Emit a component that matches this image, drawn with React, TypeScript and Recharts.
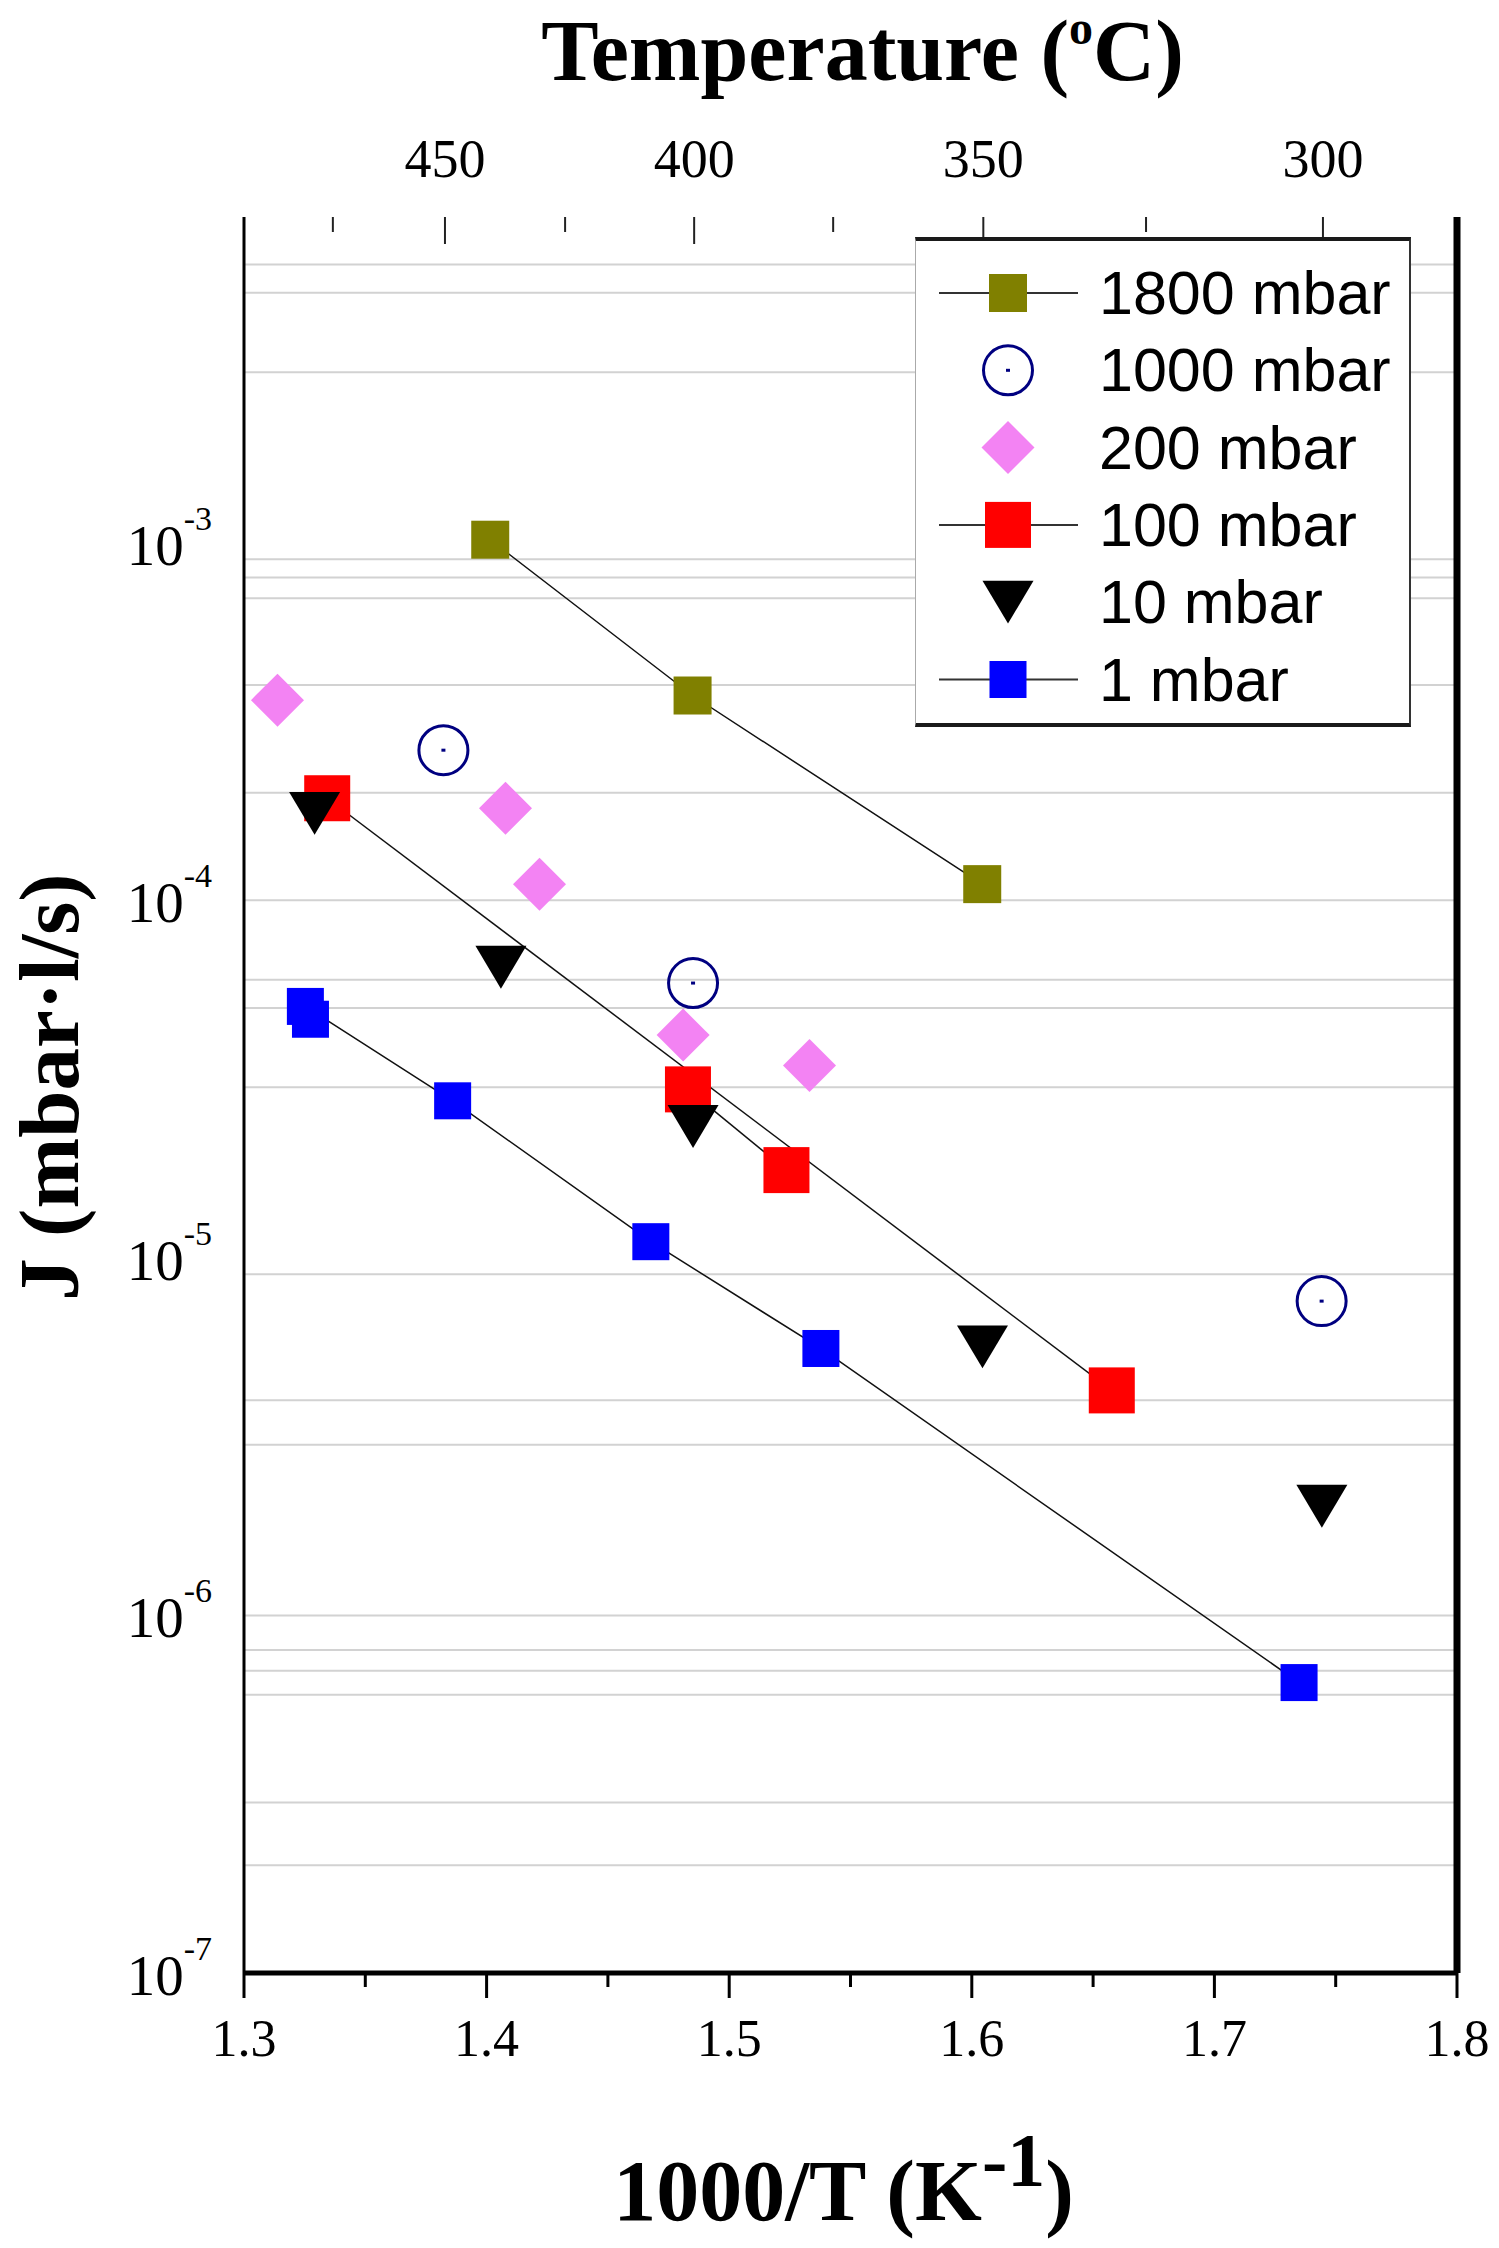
import React from "react";
import { ScatterChart, Scatter, XAxis, YAxis, ReferenceLine } from "recharts";

const SERIF = "'Liberation Serif', 'Times New Roman', serif";
const SANS = "'Liberation Sans', Arial, sans-serif";

// 1000/T (K^-1) against flux J (mbar·l/s)
const x1800 = [1.4015, 1.4849, 1.6043];
const j1800 = [1.02e-3, 3.74e-4, 1.11e-4];

const x1000 = [1.3822, 1.4851, 1.7442];
const j1000 = [2.63e-4, 5.87e-5, 7.57e-6];

const x200 = [1.3138, 1.4078, 1.4218, 1.481, 1.5331];
const j200 = [3.63e-4, 1.81e-4, 1.11e-4, 4.2e-5, 3.45e-5];

// 100 mbar: two runs, each joined on its own
const x100 = [1.3343, 1.6577];
const j100 = [1.93e-4, 4.26e-6];
const x100b = [1.483, 1.5236];
const j100b = [2.96e-5, 1.76e-5];

const x10 = [1.3291, 1.4059, 1.4851, 1.6044, 1.7443];
const j10 = [1.75e-4, 6.5e-5, 2.33e-5, 5.64e-6, 2.02e-6];

const x1 = [1.3274, 1.3253, 1.386, 1.4677, 1.5378, 1.7349];
const j1 = [4.65e-5, 5.05e-5, 2.75e-5, 1.11e-5, 5.58e-6, 6.49e-7];

const xTicks = [1.3, 1.35, 1.4, 1.45, 1.5, 1.55, 1.6, 1.65, 1.7, 1.75, 1.8];
const tempTicks = [475, 450, 425, 400, 375, 350, 325, 300]; // deg C
const yTicks = [1e-7, 1e-6, 1e-5, 1e-4, 1e-3];
const gridJ = [
  6e-3, 5e-3, 3e-3, 9e-4, 8e-4, 7e-4, 4e-4, 2e-4, 1e-4, 6e-5, 5e-5, 3e-5,
  9e-6, 4e-6, 3e-6, 1e-6, 8e-7, 7e-7, 6e-7, 3e-7, 2e-7,
];

const toPoints = (xs: number[], js: number[]) => xs.map((x, i) => ({ x, j: js[i] }));
const tempToX = (t: number) => 1000 / (t + 273.15);

type Kind = "square" | "circle" | "diamond" | "triangle";

function Marker({ kind, cx, cy, color, size }: { kind: Kind; cx: number; cy: number; color: string; size: number }) {
  if (cx == null || cy == null) return null;
  if (kind === "square") {
    return <rect x={cx - size / 2} y={cy - size / 2} width={size} height={size} fill={color} />;
  }
  if (kind === "circle") {
    return (
      <g>
        <circle cx={cx} cy={cy} r={size / 2} fill="none" stroke={color} strokeWidth={3} />
        <rect x={cx - 2} y={cy - 1.5} width={4} height={3} fill={color} />
      </g>
    );
  }
  if (kind === "diamond") {
    const h = size / 2;
    return <polygon points={`${cx},${cy - h} ${cx + h},${cy} ${cx},${cy + h} ${cx - h},${cy}`} fill={color} />;
  }
  const w = size / 2;
  const h = size * 0.42;
  return <polygon points={`${cx - w},${cy - h} ${cx + w},${cy - h} ${cx},${cy + h}`} fill={color} />;
}

// the 1000 mbar runs sit on the temperature axis (450, 400, 300 C); both x axes share one scale
const series = [
  { key: "s1800", name: "1800 mbar", data: toPoints(x1800, j1800), kind: "square" as Kind, color: "#808000", size: 38, line: true, legend: true, xAxis: 0 as any },
  { key: "s1000", name: "1000 mbar", data: toPoints(x1000, j1000), kind: "circle" as Kind, color: "#000080", size: 49, line: false, legend: true, xAxis: "top" as any },
  { key: "s200", name: "200 mbar", data: toPoints(x200, j200), kind: "diamond" as Kind, color: "#f383f3", size: 53, line: false, legend: true, xAxis: 0 as any },
  { key: "s100", name: "100 mbar", data: toPoints(x100, j100), kind: "square" as Kind, color: "#ff0000", size: 46, line: true, legend: true, xAxis: 0 as any },
  { key: "s100b", name: "100 mbar", data: toPoints(x100b, j100b), kind: "square" as Kind, color: "#ff0000", size: 46, line: true, legend: false, xAxis: 0 as any },
  { key: "s10", name: "10 mbar", data: toPoints(x10, j10), kind: "triangle" as Kind, color: "#000000", size: 51, line: false, legend: true, xAxis: 0 as any },
  { key: "s1", name: "1 mbar", data: toPoints(x1, j1), kind: "square" as Kind, color: "#0000ff", size: 37, line: true, legend: true, xAxis: 0 as any },
];

function BottomTick({ x, y, payload }: any) {
  const v = payload.value as number;
  const major = Math.round(v * 100) % 10 === 0;
  return (
    <g>
      <line x1={x} x2={x} y1={y} y2={y + (major ? 25 : 14)} stroke="#000" strokeWidth={3} />
      {major && (
        <text x={x} y={y + 83} textAnchor="middle" fontFamily={SERIF} fontSize={52} fill="#000">
          {v.toFixed(1)}
        </text>
      )}
    </g>
  );
}

function TopTick({ x, y, payload }: any) {
  const t = Math.round(1000 / payload.value - 273.15);
  const major = t % 50 === 0;
  return (
    <g>
      <line x1={x} x2={x} y1={y} y2={y + (major ? 27 : 15)} stroke="#222" strokeWidth={2} />
      {major && (
        <text x={x} y={y - 40} textAnchor="middle" fontFamily={SERIF} fontSize={54} fill="#000">
          {t}
        </text>
      )}
    </g>
  );
}

function LeftTick({ x, y, payload }: any) {
  const e = Math.round(Math.log10(payload.value));
  return (
    <text x={x - 32} y={y + 22} textAnchor="end" fontFamily={SERIF} fill="#000">
      <tspan fontSize={57}>10</tspan>
      <tspan fontSize={34} dy={-35}>{e}</tspan>
    </text>
  );
}

const TopTitle = (props: any) => {
  const vb = props.viewBox;
  return (
    <text x={vb.x + vb.width / 2 + 12} y={vb.y + 80} textAnchor="middle" fontFamily={SERIF} fontWeight="bold" fontSize={86} fill="#000">
      Temperature (<tspan fontSize={48} dy={-36}>o</tspan>
      <tspan dy={36}>C)</tspan>
    </text>
  );
};

const BottomTitle = (props: any) => {
  const vb = props.viewBox;
  return (
    <text x={vb.x + vb.width / 2 - 7} y={vb.y + 247} textAnchor="middle" fontFamily={SERIF} fontWeight="bold" fontSize={86} fill="#000">
      1000/T (K<tspan fontSize={76} dy={-34}>-1</tspan>
      <tspan dy={34}>)</tspan>
    </text>
  );
};

const LeftTitle = (props: any) => {
  const vb = props.viewBox;
  const cx = vb.x + 78;
  const cy = vb.y + vb.height / 2 - 8;
  return (
    <text x={cx} y={cy} transform={`rotate(-90 ${cx} ${cy})`} textAnchor="middle" fontFamily={SERIF} fontWeight="bold" fontSize={85} fill="#000">
      J (mbar·l/s)
    </text>
  );
};

function LegendBox() {
  const rows = series.filter((s) => s.legend);
  return (
    <div
      style={{
        position: "absolute",
        left: 915,
        top: 237,
        width: 496,
        height: 490,
        boxSizing: "border-box",
        background: "#fff",
        borderTop: "4px solid #1a1a1a",
        borderBottom: "4px solid #1a1a1a",
        borderLeft: "1px solid #aaa",
        borderRight: "2px solid #333",
      }}
    >
      <svg width={493} height={482}>
        {rows.map((s, i) => {
          const cy = 52 + i * 77.3;
          return (
            <g key={s.key}>
              {s.line && <line x1={23} x2={162} y1={cy} y2={cy} stroke="#333" strokeWidth={2} />}
              <Marker kind={s.kind} cx={92} cy={cy} color={s.color} size={s.size} />
              <text x={183} y={cy + 21} fontFamily={SANS} fontSize={61} fill="#000">
                {s.name}
              </text>
            </g>
          );
        })}
      </svg>
    </div>
  );
}

export default function App() {
  return (
    <div style={{ position: "absolute", left: 0, top: 0, width: 1499, height: 2248, background: "#fff" }}>
      <ScatterChart width={1499} height={2248} margin={{ top: 0, right: 0, bottom: 0, left: 0 }}>
        <XAxis
          dataKey="x"
          type="number"
          domain={[1.3, 1.8]}
          ticks={xTicks}
          interval={0}
          allowDataOverflow
          height={275}
          tickSize={0}
          tickMargin={0}
          tickLine={false}
          axisLine={{ stroke: "#000", strokeWidth: 5 }}
          tick={<BottomTick />}
          label={BottomTitle}
        />
        <XAxis
          xAxisId="top"
          dataKey="x"
          orientation="top"
          type="number"
          domain={[1.3, 1.8]}
          ticks={tempTicks.map(tempToX)}
          interval={0}
          allowDataOverflow
          height={217}
          tickSize={0}
          tickMargin={0}
          tickLine={false}
          axisLine={false}
          tick={<TopTick />}
          label={TopTitle}
        />
        <YAxis
          dataKey="j"
          type="number"
          scale="log"
          domain={[1e-7, 8.15e-3]}
          ticks={yTicks}
          interval={0}
          allowDataOverflow
          width={244}
          tickSize={0}
          tickMargin={0}
          tickLine={false}
          axisLine={{ stroke: "#000", strokeWidth: 3 }}
          tick={<LeftTick />}
          label={LeftTitle}
        />
        <YAxis
          yAxisId="r"
          orientation="right"
          type="number"
          domain={[0, 1]}
          width={42}
          tick={false}
          tickLine={false}
          axisLine={{ stroke: "#000", strokeWidth: 7 }}
        />
        {gridJ.map((v) => (
          <ReferenceLine key={v} y={v} stroke="#d2d2d2" strokeWidth={2} />
        ))}
        {series.map((s) => (
          <Scatter
            key={s.key}
            name={s.name}
            data={s.data}
            xAxisId={s.xAxis}
            line={s.line ? { stroke: "#111", strokeWidth: 1.5 } : false}
            lineJointType="linear"
            isAnimationActive={false}
            shape={(p: any) => <Marker kind={s.kind} cx={p.cx} cy={p.cy} color={s.color} size={s.size} />}
          />
        ))}
      </ScatterChart>
      <LegendBox />
    </div>
  );
}
